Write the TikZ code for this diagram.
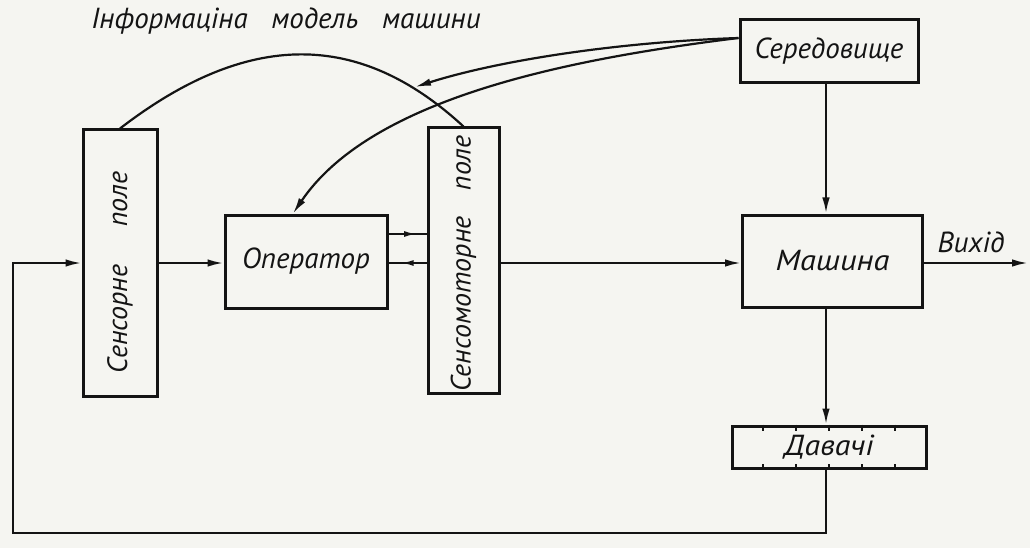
\documentclass[tikz,border=0pt]{standalone}
\usepackage{fontspec}
\setmainfont{PT Sans}
\usetikzlibrary{arrows.meta,decorations.markings}
\definecolor{paper}{RGB}{245,245,241}
\definecolor{ink}{RGB}{20,20,20}
\begin{document}
\begin{tikzpicture}[x=1pt,y=-1pt,
  lbl/.style={font=\itshape\fontsize{29}{33}\selectfont, text=ink},
  vlbl/.style={font=\itshape\fontsize{28}{32}\selectfont, text=ink},
  box/.style={draw=ink, line width=3pt, inner sep=0pt, lbl},
  conn/.style={draw=ink, line width=2.2pt},
  arr/.style={conn, -{Latex[length=16pt,width=7.5pt]}},
  midarr/.style={conn, postaction={decorate},
    decoration={markings, mark=at position #1 with {\arrow{Latex[length=13pt,width=6pt]}}}},
]
\fill[paper] (0,0) rectangle (1030,548);
\useasboundingbox (0,0) rectangle (1030,548);

% nodes
\node[lbl] (title) at (286,21) {Інформаціна\hspace{16pt} модель\hspace{16pt} машини};
\node[box, minimum width=178pt, minimum height=63pt] (env) at (829,51.5) {Середовище};
\node[box, vlbl, minimum width=74pt, minimum height=266pt] (sens) at (120,263)
  {\rotatebox{90}{Сенсорне\hspace{38pt}поле\hspace{19pt}}};
\node[box, minimum width=162pt, minimum height=93pt] (op) at (306,261.5) {Оператор};
\node[box, vlbl, minimum width=71pt, minimum height=265pt] (sm) at (463.5,260.5)
  {\rotatebox{90}{Сенсомоторне\hspace{26pt}поле\hspace{6pt}}};
\node[box, minimum width=180pt, minimum height=92pt] (mach) at (832.5,261)
  {\scalebox{1.12}[1]{Машина}\hspace{24pt}};
\node[box, minimum width=194pt, minimum height=42pt] (dav) at (829,447)
  {\scalebox{1.1}[1]{Давачі}\hspace{10pt}};
\node[lbl] (vyh) at (971,242) {Вихід};

% helper coordinates
\coordinate (cx) at (826,0);
\coordinate (ey) at (0,38);
\coordinate (y234) at (0,234);
\coordinate (y263) at (0,263);
\coordinate (opx) at (293,0);
\coordinate (arcpt) at (415,87);
\coordinate (outc) at (1028,263);
\coordinate (fb) at (13,533);

% Давачі ticks
\foreach \d in {-66,-33,0,33,66} {
  \draw[conn, line width=1.8pt] ([xshift=\d pt]dav.north) -- ++(0,6);
  \draw[conn, line width=1.8pt] ([xshift=\d pt]dav.south) -- ++(0,-6);
}

% connectors
\draw[conn] (sens.north) .. controls (248,30) and (359,30) .. (sm.north);
\draw[arr] (env.west |- ey) .. controls (620,42) and (500,60) .. (arcpt);
\draw[arr] (env.west |- ey) .. controls (560,60) and (370,100) .. (op.north -| opx);
\draw[arr] (sens.east) -- (sens.east -| op.west);
\draw[midarr=0.75] (op.east |- y234) -- (sm.west |- y234);
\draw[midarr=0.68] (sm.west |- y263) -- (op.east |- y263);
\draw[arr] (sm.east |- y263) -- (mach.west |- y263);
\draw[arr] (mach.east |- y263) -- (outc);
\draw[arr] (env.south -| cx) -- (mach.north -| cx);
\draw[arr] (mach.south -| cx) -- (dav.north -| cx);
\draw[arr] (dav.south -| cx) |- (fb) |- (sens.west);
\end{tikzpicture}
\end{document}
